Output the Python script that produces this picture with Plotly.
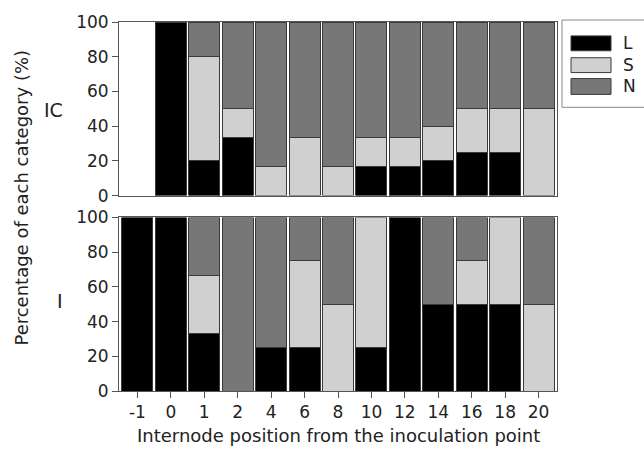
import plotly.graph_objects as go
from plotly.subplots import make_subplots

categories = ["-1", "0", "1", "2", "4", "6", "8", "10", "12", "14", "16", "18", "20"]

# IC panel (top)
ic_L = [0, 100, 20, 33.3, 0, 0, 0, 16.7, 16.7, 20, 25, 25, 0]
ic_S = [0, 0, 60, 16.7, 16.7, 33.3, 16.7, 16.7, 16.7, 20, 25, 25, 50]
ic_N = [0, 0, 20, 50, 83.3, 66.7, 83.3, 66.6, 66.6, 60, 50, 50, 50]

# I panel (bottom)
i_L = [100, 100, 33.3, 0, 25, 25, 0, 25, 100, 50, 50, 50, 0]
i_S = [0, 0, 33.3, 0, 0, 50, 50, 75, 0, 0, 25, 50, 50]
i_N = [0, 0, 33.4, 100, 75, 25, 50, 0, 0, 50, 25, 0, 50]

series_names = ["L", "S", "N"]
colors = {"L": "#000000", "S": "#d0d0d0", "N": "#777777"}
outline = "#3a3a3a"
FONT = "DejaVu Sans, Arial, sans-serif"
TXT = "#222"

W, H = 644, 453
ML, MR, MT, MB = 119, 87, 19, 62
PW, PH = W - ML - MR, H - MT - MB


def px_x(px):
    return (px - ML) / PW


def px_y(py):
    return (H - MB - py) / PH


fig = make_subplots(rows=2, cols=1, shared_xaxes=True, vertical_spacing=22 / PH)


def nz(v):
    return [x if x else None for x in v]


panels = [(1, [ic_L, ic_S, ic_N]), (2, [i_L, i_S, i_N])]
for row, vals in panels:
    for name, v in zip(series_names, vals):
        fig.add_trace(
            go.Bar(
                x=categories,
                y=nz(v),
                name=name,
                marker=dict(color=colors[name], line=dict(color=outline, width=1)),
                showlegend=False,
            ),
            row=row,
            col=1,
        )

fig.update_layout(
    barmode="stack",
    bargap=0.07,
    width=W,
    height=H,
    margin=dict(l=ML, r=MR, t=MT, b=MB),
    plot_bgcolor="white",
    paper_bgcolor="white",
    font=dict(family=FONT, size=17, color=TXT),
    showlegend=False,
)

axis_common = dict(showline=True, linecolor="#555", linewidth=1, mirror=True, showgrid=False, zeroline=False)
fig.update_yaxes(
    range=[0, 100], tickvals=[0, 20, 40, 60, 80, 100], ticks="outside", ticklen=6,
    tickcolor="#555", tickfont=dict(size=17, family=FONT, color=TXT), **axis_common
)
fig.update_xaxes(
    type="category", range=[-0.55, 12.55], categoryorder="array", categoryarray=categories,
    **axis_common
)
fig.update_xaxes(showticklabels=False, ticks="", row=1, col=1)
fig.update_xaxes(ticks="outside", ticklen=6, tickcolor="#555",
                 tickfont=dict(size=17, family=FONT, color=TXT), row=2, col=1)


def ann(text, x, y, size, **kw):
    d = dict(text=text, x=px_x(x), y=px_y(y), xref="paper", yref="paper", showarrow=False,
             xanchor="center", yanchor="middle", font=dict(size=size, family=FONT, color=TXT))
    d.update(kw)
    return d


annotations = [
    ann("Internode position from the inoculation point", 338, 436, 18),
    ann("Percentage of each category (%)", 22, 196, 18, textangle=-90),
    ann("IC", 53, 108, 19),
    ann("I", 60, 300, 19),
]

shapes = [
    dict(type="rect", xref="paper", yref="paper", x0=px_x(562), x1=px_x(652), y0=px_y(105), y1=px_y(17),
         line=dict(color="#888", width=1), fillcolor="white"),
]
leg_rows = [("L", 33, 48), ("S", 55, 70), ("N", 76, 92)]
for name, t, b in leg_rows:
    shapes.append(dict(type="rect", xref="paper", yref="paper", x0=px_x(571), x1=px_x(611),
                       y0=px_y(b), y1=px_y(t), line=dict(color=outline, width=1),
                       fillcolor=colors[name]))
    annotations.append(ann(name, 621, (t + b) / 2, 17, xanchor="left"))

fig.update_layout(annotations=annotations, shapes=shapes)
fig.write_html("out.html")
